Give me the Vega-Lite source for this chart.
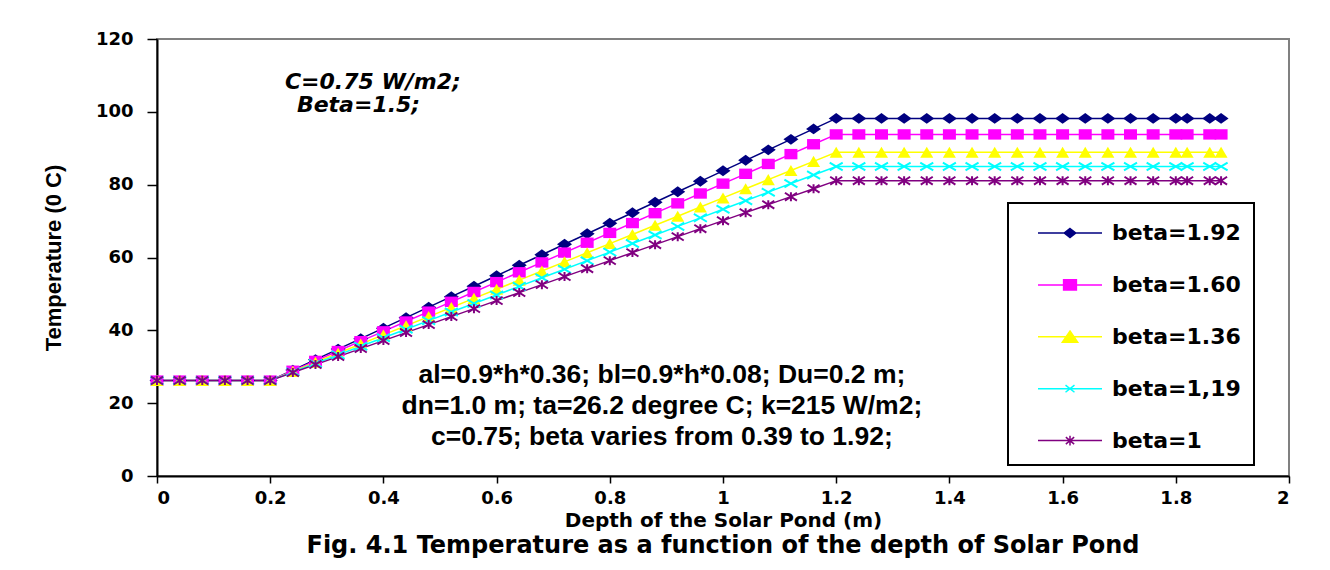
{
  "$schema": "https://vega.github.io/schema/vega-lite/v6.json",
  "width": 1132,
  "height": 437,
  "autosize": {"type": "none"},
  "padding": {"left": 157, "top": 39, "right": 41, "bottom": 94},
  "background": "white",
  "data": {"values": [
    {"x": 0, "a": 26.2, "b": 26.2, "c": 26.2, "d": 26.2, "e": 26.2},
    {"x": 0.04, "a": 26.2, "b": 26.2, "c": 26.2, "d": 26.2, "e": 26.2},
    {"x": 0.08, "a": 26.2, "b": 26.2, "c": 26.2, "d": 26.2, "e": 26.2},
    {"x": 0.12, "a": 26.2, "b": 26.2, "c": 26.2, "d": 26.2, "e": 26.2},
    {"x": 0.16, "a": 26.2, "b": 26.2, "c": 26.2, "d": 26.2, "e": 26.2},
    {"x": 0.2, "a": 26.2, "b": 26.2, "c": 26.2, "d": 26.2, "e": 26.2},
    {"x": 0.24, "a": 29.08, "b": 28.9, "c": 28.71, "d": 28.55, "e": 28.4},
    {"x": 0.28, "a": 31.96, "b": 31.61, "c": 31.22, "d": 30.9, "e": 30.59},
    {"x": 0.32, "a": 34.84, "b": 34.31, "c": 33.72, "d": 33.26, "e": 32.79},
    {"x": 0.36, "a": 37.72, "b": 37.02, "c": 36.23, "d": 35.61, "e": 34.98},
    {"x": 0.4, "a": 40.6, "b": 39.72, "c": 38.74, "d": 37.96, "e": 37.18},
    {"x": 0.44, "a": 43.48, "b": 42.42, "c": 41.25, "d": 40.31, "e": 39.38},
    {"x": 0.48, "a": 46.36, "b": 45.13, "c": 43.76, "d": 42.66, "e": 41.57},
    {"x": 0.52, "a": 49.24, "b": 47.83, "c": 46.26, "d": 45.02, "e": 43.77},
    {"x": 0.56, "a": 52.12, "b": 50.54, "c": 48.77, "d": 47.37, "e": 45.96},
    {"x": 0.6, "a": 55.0, "b": 53.24, "c": 51.28, "d": 49.72, "e": 48.16},
    {"x": 0.64, "a": 57.88, "b": 55.94, "c": 53.79, "d": 52.07, "e": 50.36},
    {"x": 0.68, "a": 60.76, "b": 58.65, "c": 56.3, "d": 54.42, "e": 52.55},
    {"x": 0.72, "a": 63.64, "b": 61.35, "c": 58.8, "d": 56.78, "e": 54.75},
    {"x": 0.76, "a": 66.52, "b": 64.06, "c": 61.31, "d": 59.13, "e": 56.94},
    {"x": 0.8, "a": 69.4, "b": 66.76, "c": 63.82, "d": 61.48, "e": 59.14},
    {"x": 0.84, "a": 72.28, "b": 69.46, "c": 66.33, "d": 63.83, "e": 61.34},
    {"x": 0.88, "a": 75.16, "b": 72.17, "c": 68.84, "d": 66.18, "e": 63.53},
    {"x": 0.92, "a": 78.04, "b": 74.87, "c": 71.34, "d": 68.54, "e": 65.73},
    {"x": 0.96, "a": 80.92, "b": 77.58, "c": 73.85, "d": 70.89, "e": 67.92},
    {"x": 1.0, "a": 83.8, "b": 80.28, "c": 76.36, "d": 73.24, "e": 70.12},
    {"x": 1.04, "a": 86.68, "b": 82.98, "c": 78.87, "d": 75.59, "e": 72.32},
    {"x": 1.08, "a": 89.56, "b": 85.69, "c": 81.38, "d": 77.94, "e": 74.51},
    {"x": 1.12, "a": 92.44, "b": 88.39, "c": 83.88, "d": 80.3, "e": 76.71},
    {"x": 1.16, "a": 95.32, "b": 91.1, "c": 86.39, "d": 82.65, "e": 78.9},
    {"x": 1.2, "a": 98.2, "b": 93.8, "c": 88.9, "d": 85.0, "e": 81.1},
    {"x": 1.24, "a": 98.2, "b": 93.8, "c": 88.9, "d": 85.0, "e": 81.1},
    {"x": 1.28, "a": 98.2, "b": 93.8, "c": 88.9, "d": 85.0, "e": 81.1},
    {"x": 1.32, "a": 98.2, "b": 93.8, "c": 88.9, "d": 85.0, "e": 81.1},
    {"x": 1.36, "a": 98.2, "b": 93.8, "c": 88.9, "d": 85.0, "e": 81.1},
    {"x": 1.4, "a": 98.2, "b": 93.8, "c": 88.9, "d": 85.0, "e": 81.1},
    {"x": 1.44, "a": 98.2, "b": 93.8, "c": 88.9, "d": 85.0, "e": 81.1},
    {"x": 1.48, "a": 98.2, "b": 93.8, "c": 88.9, "d": 85.0, "e": 81.1},
    {"x": 1.52, "a": 98.2, "b": 93.8, "c": 88.9, "d": 85.0, "e": 81.1},
    {"x": 1.56, "a": 98.2, "b": 93.8, "c": 88.9, "d": 85.0, "e": 81.1},
    {"x": 1.6, "a": 98.2, "b": 93.8, "c": 88.9, "d": 85.0, "e": 81.1},
    {"x": 1.64, "a": 98.2, "b": 93.8, "c": 88.9, "d": 85.0, "e": 81.1},
    {"x": 1.68, "a": 98.2, "b": 93.8, "c": 88.9, "d": 85.0, "e": 81.1},
    {"x": 1.72, "a": 98.2, "b": 93.8, "c": 88.9, "d": 85.0, "e": 81.1},
    {"x": 1.76, "a": 98.2, "b": 93.8, "c": 88.9, "d": 85.0, "e": 81.1},
    {"x": 1.8, "a": 98.2, "b": 93.8, "c": 88.9, "d": 85.0, "e": 81.1},
    {"x": 1.82, "a": 98.2, "b": 93.8, "c": 88.9, "d": 85.0, "e": 81.1},
    {"x": 1.86, "a": 98.2, "b": 93.8, "c": 88.9, "d": 85.0, "e": 81.1},
    {"x": 1.88, "a": 98.2, "b": 93.8, "c": 88.9, "d": 85.0, "e": 81.1}
  ]},
  "transform": [{"fold": ["a", "b", "c", "d", "e"], "as": ["s", "t"]}],
  "title": {
    "text": "Fig. 4.1 Temperature as a function of the depth of Solar Pond",
    "orient": "bottom",
    "anchor": "middle",
    "font": "DejaVu Sans",
    "fontSize": 24,
    "fontWeight": "bold",
    "color": "#000000",
    "offset": 4
  },
  "layer": [
    {
      "mark": {"type": "line", "strokeWidth": 1.5},
      "encoding": {
        "x": {"field": "x", "type": "quantitative", "scale": {"domain": [0, 2], "nice": false, "zero": false},
              "axis": {"values": [0, 0.2, 0.4, 0.6, 0.8, 1, 1.2, 1.4, 1.6, 1.8, 2], "format": "~g", "title": "Depth of the Solar Pond (m)"}},
        "y": {"field": "t", "type": "quantitative", "scale": {"domain": [0, 120], "nice": false, "zero": true},
              "axis": {"values": [0, 20, 40, 60, 80, 100, 120], "format": "d", "title": "Temperature (0 C)"}},
        "color": {"field": "s", "type": "nominal",
                  "scale": {"domain": ["a", "b", "c", "d", "e"], "range": ["#000080", "#FF00FF", "#FFFF00", "#00FFFF", "#800080"]},
                  "legend": {"title": null, "orient": "none", "legendX": 851, "legendY": 164,
                             "labelExpr": "(datum.value=='a'?'beta=1.92':datum.value=='b'?'beta=1.60':datum.value=='c'?'beta=1.36':datum.value=='d'?'beta=1,19':'beta=1')+'\u00a0\u00a0\u00a0\u00a0\u00a0'"}}
      }
    },
    {
      "transform": [{"filter": "datum.s=='a'"}],
      "mark": {"type": "point", "shape": "M-1,0L0,-0.73L1,0L0,0.73Z", "filled": true, "size": 225, "opacity": 1},
      "encoding": {
        "x": {"field": "x", "type": "quantitative", "scale": {"domain": [0, 2], "nice": false, "zero": false}},
        "y": {"field": "t", "type": "quantitative", "scale": {"domain": [0, 120], "nice": false, "zero": true}},
        "color": {"field": "s", "type": "nominal", "legend": null}
      }
    },
    {
      "transform": [{"filter": "datum.s=='b'"}],
      "mark": {"type": "point", "shape": "M-1,-0.8H1V0.8H-1Z", "filled": true, "size": 169, "opacity": 1},
      "encoding": {
        "x": {"field": "x", "type": "quantitative", "scale": {"domain": [0, 2], "nice": false, "zero": false}},
        "y": {"field": "t", "type": "quantitative", "scale": {"domain": [0, 120], "nice": false, "zero": true}},
        "color": {"field": "s", "type": "nominal", "legend": null}
      }
    },
    {
      "transform": [{"filter": "datum.s=='c'"}],
      "mark": {"type": "point", "shape": "M0,-0.85L1,0.85H-1Z", "filled": true, "size": 169, "opacity": 1},
      "encoding": {
        "x": {"field": "x", "type": "quantitative", "scale": {"domain": [0, 2], "nice": false, "zero": false}},
        "y": {"field": "t", "type": "quantitative", "scale": {"domain": [0, 120], "nice": false, "zero": true}},
        "color": {"field": "s", "type": "nominal", "legend": null}
      }
    },
    {
      "transform": [{"filter": "datum.s=='d'"}],
      "mark": {"type": "point", "shape": "M-1,-0.6L1,0.6M-1,0.6L1,-0.6", "filled": false, "size": 169, "strokeWidth": 2, "opacity": 1},
      "encoding": {
        "x": {"field": "x", "type": "quantitative", "scale": {"domain": [0, 2], "nice": false, "zero": false}},
        "y": {"field": "t", "type": "quantitative", "scale": {"domain": [0, 120], "nice": false, "zero": true}},
        "color": {"field": "s", "type": "nominal", "legend": null}
      }
    },
    {
      "transform": [{"filter": "datum.s=='e'"}],
      "mark": {"type": "point", "shape": "M-1,-0.65L1,0.65M-1,0.65L1,-0.65M0,-0.75V0.75", "filled": false, "size": 144, "strokeWidth": 2, "opacity": 1},
      "encoding": {
        "x": {"field": "x", "type": "quantitative", "scale": {"domain": [0, 2], "nice": false, "zero": false}},
        "y": {"field": "t", "type": "quantitative", "scale": {"domain": [0, 120], "nice": false, "zero": true}},
        "color": {"field": "s", "type": "nominal", "legend": null}
      }
    },
    {
      "mark": {"type": "point", "filled": true, "opacity": 0, "size": 1024},
      "encoding": {
        "x": {"field": "x", "type": "quantitative", "scale": {"domain": [0, 2], "nice": false, "zero": false}},
        "y": {"field": "t", "type": "quantitative", "scale": {"domain": [0, 120], "nice": false, "zero": true}},
        "color": {"field": "s", "type": "nominal",
                  "legend": {"title": null, "orient": "none", "legendX": 851, "legendY": 164,
                             "labelExpr": "(datum.value=='a'?'beta=1.92':datum.value=='b'?'beta=1.60':datum.value=='c'?'beta=1.36':datum.value=='d'?'beta=1,19':'beta=1')+'\u00a0\u00a0\u00a0\u00a0\u00a0'"}},
        "shape": {"field": "s", "type": "nominal",
                  "scale": {"domain": ["a", "b", "c", "d", "e"],
                            "range": [
                              "M-2,0H2M0,-0.28L0.36,0L0,0.28L-0.36,0Z",
                              "M-2,0H2M-0.4,-0.32H0.4V0.32H-0.4Z",
                              "M-2,0H2M0,-0.36L0.48,0.34H-0.48Z",
                              "M-2,0H2M-0.28,-0.22L0.28,0.22M-0.28,0.22L0.28,-0.22",
                              "M-2,0H2M-0.26,-0.22L0.26,0.22M-0.26,0.22L0.26,-0.22M0,-0.3V0.3"
                            ]},
                  "legend": {"title": null, "orient": "none", "legendX": 851, "legendY": 164,
                             "labelExpr": "(datum.value=='a'?'beta=1.92':datum.value=='b'?'beta=1.60':datum.value=='c'?'beta=1.36':datum.value=='d'?'beta=1,19':'beta=1')+'\u00a0\u00a0\u00a0\u00a0\u00a0'"}}
      }
    },
    {
      "data": {"values": [{}]},
      "mark": {"type": "text", "text": "C=0.75 W/m2;", "align": "left", "baseline": "alphabetic",
               "font": "DejaVu Sans", "fontSize": 22, "fontWeight": "bold", "fontStyle": "italic", "color": "#000000"},
      "encoding": {
        "x": {"datum": 0.226, "type": "quantitative"},
        "y": {"datum": 106.3, "type": "quantitative"}
      }
    },
    {
      "data": {"values": [{}]},
      "mark": {"type": "text", "text": "Beta=1.5;", "align": "left", "baseline": "alphabetic", "dx": 12, "dy": 23,
               "font": "DejaVu Sans", "fontSize": 22, "fontWeight": "bold", "fontStyle": "italic", "color": "#000000"},
      "encoding": {
        "x": {"datum": 0.226, "type": "quantitative"},
        "y": {"datum": 106.3, "type": "quantitative"}
      }
    },
    {
      "data": {"values": [{}]},
      "mark": {"type": "text", "text": ["al=0.9*h*0.36; bl=0.9*h*0.08; Du=0.2 m;", "dn=1.0 m; ta=26.2 degree C; k=215 W/m2;", "c=0.75; beta varies from 0.39 to 1.92;"],
               "align": "center", "baseline": "alphabetic",
               "font": "Liberation Sans", "fontSize": 26.5, "fontWeight": "bold", "lineHeight": 31, "color": "#000000"},
      "encoding": {
        "x": {"datum": 0.892, "type": "quantitative"},
        "y": {"datum": 25.5, "type": "quantitative"}
      }
    }
  ],
  "config": {
    "view": {"stroke": "#808080", "strokeWidth": 2},
    "axis": {
      "grid": false,
      "domainColor": "#000000",
      "domainWidth": 2,
      "tickColor": "#000000",
      "tickWidth": 1.5,
      "labelColor": "#000000",
      "labelFont": "DejaVu Sans",
      "labelFontWeight": "bold",
      "labelFontSize": 18,
      "titleColor": "#000000",
      "titleFontWeight": "bold"
    },
    "axisX": {"tickSize": 7, "labelPadding": 6, "titleFont": "DejaVu Sans", "titleFontSize": 20, "titlePadding": 3},
    "axisY": {"tickSize": 10, "labelPadding": 14, "titleFont": "Liberation Sans", "titleFontSize": 22, "titlePadding": 30},
    "legend": {
      "padding": 13,
      "strokeColor": "#000000",
      "strokeWidth": 2,
      "fillColor": "#ffffff",
      "symbolSize": 1024,
      "symbolStrokeWidth": 1.5,
      "symbolOffset": 32,
      "symbolOpacity": 1,
      "labelFont": "DejaVu Sans",
      "labelFontWeight": "bold",
      "labelFontSize": 22,
      "labelColor": "#000000",
      "labelOffset": 25,
      "labelLimit": 400,
      "rowPadding": 23.9
    }
  }
}
